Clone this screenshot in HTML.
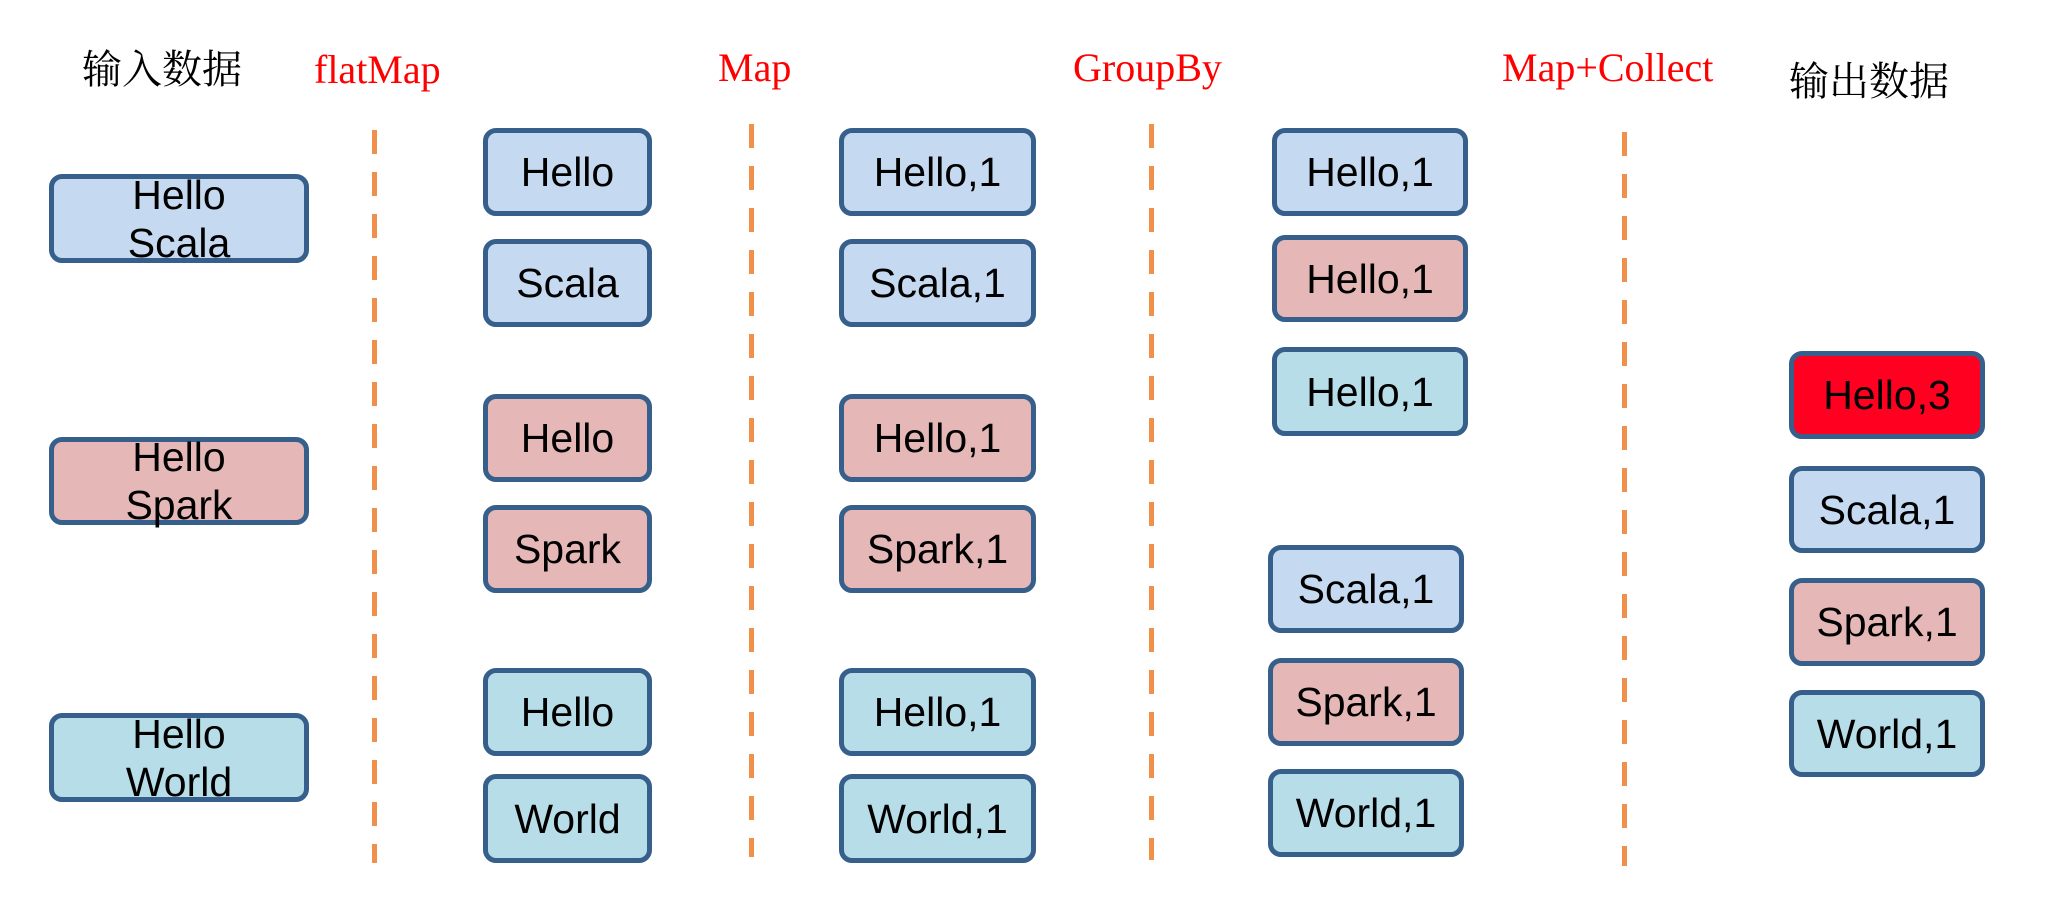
<!DOCTYPE html>
<html><head><meta charset="utf-8"><style>
body{margin:0;width:2056px;height:905px;background:#fff;position:relative;overflow:hidden;font-family:"Liberation Sans","Noto Sans CJK SC",sans-serif}
.b{position:absolute;box-sizing:border-box;border:5px solid #36608b;border-radius:13px;display:flex;align-items:center;justify-content:center;font-size:41px;color:#000;text-align:center;line-height:48px}
.u{background:#c5d9f1}.p{background:#e5b8b7}.c{background:#b7dee8}.r{background:#ff0020}
.t{position:absolute;font-family:"Liberation Serif","Noto Serif CJK SC",serif;font-size:40px;color:#ff0000;white-space:nowrap}
.k{position:absolute;font-family:"Liberation Serif","Noto Serif CJK SC",serif;font-size:40px;color:#000;white-space:nowrap}
.d{position:absolute;width:5px;background:repeating-linear-gradient(to bottom,#f0904a 0 24px,transparent 24px 42px)}
</style></head><body>
<div class="k" style="left:82px;top:38px">输入数据</div>
<div class="k" style="left:1789px;top:50px">输出数据</div>
<div class="t" style="left:314px;top:46px">flatMap</div>
<div class="t" style="left:718px;top:44px">Map</div>
<div class="t" style="left:1073px;top:44px">GroupBy</div>
<div class="t" style="left:1502px;top:44px">Map+Collect</div>
<div class="d" style="left:372px;top:130px;height:733px"></div>
<div class="d" style="left:749px;top:124px;height:733px"></div>
<div class="d" style="left:1149px;top:124px;height:736px"></div>
<div class="d" style="left:1622px;top:132px;height:734px"></div>

<div class="b u" style="left:49px;top:174px;width:260px;height:89px">Hello<br>Scala</div>
<div class="b p" style="left:49px;top:437px;width:260px;height:88px">Hello<br>Spark</div>
<div class="b c" style="left:49px;top:713px;width:260px;height:89px">Hello<br>World</div>

<div class="b u" style="left:483px;top:128px;width:169px;height:88px">Hello</div>
<div class="b u" style="left:483px;top:239px;width:169px;height:88px">Scala</div>
<div class="b p" style="left:483px;top:394px;width:169px;height:88px">Hello</div>
<div class="b p" style="left:483px;top:505px;width:169px;height:88px">Spark</div>
<div class="b c" style="left:483px;top:668px;width:169px;height:88px">Hello</div>
<div class="b c" style="left:483px;top:774px;width:169px;height:89px">World</div>

<div class="b u" style="left:839px;top:128px;width:197px;height:88px">Hello,1</div>
<div class="b u" style="left:839px;top:239px;width:197px;height:88px">Scala,1</div>
<div class="b p" style="left:839px;top:394px;width:197px;height:88px">Hello,1</div>
<div class="b p" style="left:839px;top:505px;width:197px;height:88px">Spark,1</div>
<div class="b c" style="left:839px;top:668px;width:197px;height:88px">Hello,1</div>
<div class="b c" style="left:839px;top:774px;width:197px;height:89px">World,1</div>

<div class="b u" style="left:1272px;top:128px;width:196px;height:88px">Hello,1</div>
<div class="b p" style="left:1272px;top:235px;width:196px;height:87px">Hello,1</div>
<div class="b c" style="left:1272px;top:347px;width:196px;height:89px">Hello,1</div>
<div class="b u" style="left:1268px;top:545px;width:196px;height:88px">Scala,1</div>
<div class="b p" style="left:1268px;top:658px;width:196px;height:88px">Spark,1</div>
<div class="b c" style="left:1268px;top:769px;width:196px;height:88px">World,1</div>

<div class="b r" style="left:1789px;top:351px;width:196px;height:88px">Hello,3</div>
<div class="b u" style="left:1789px;top:466px;width:196px;height:87px">Scala,1</div>
<div class="b p" style="left:1789px;top:578px;width:196px;height:88px">Spark,1</div>
<div class="b c" style="left:1789px;top:690px;width:196px;height:87px">World,1</div>
</body></html>
